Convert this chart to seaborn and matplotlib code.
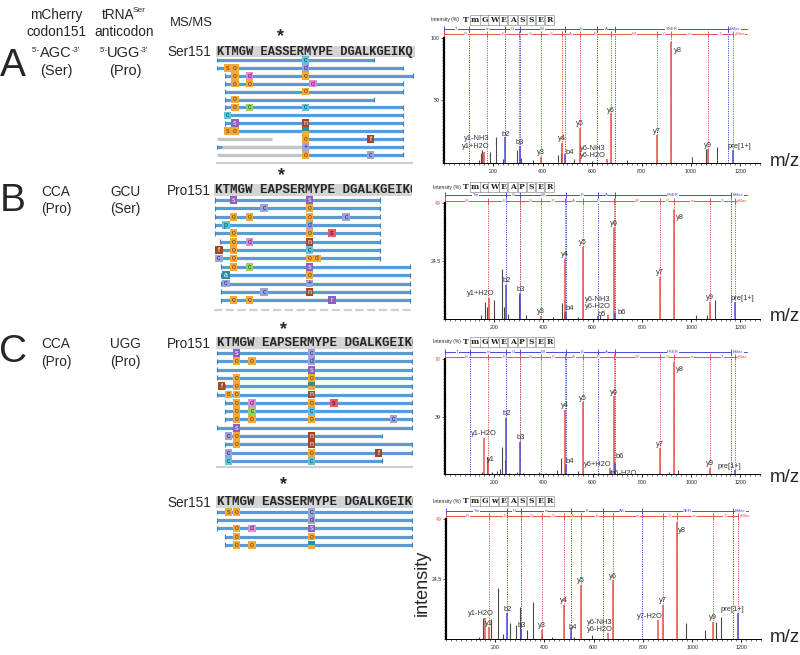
import matplotlib
matplotlib.use("Agg")
import matplotlib.pyplot as plt
from matplotlib.patches import Rectangle
from matplotlib.ticker import MultipleLocator, FixedLocator
import seaborn as sns

sns.set_theme(style="white")
plt.rcParams["font.family"] = ["Liberation Sans", "DejaVu Sans"]

W, H = 800, 655

# ---------------- data: left column ----------------
panel_letters = ["A", "B", "C"]
codon_triplets = ["AGC", "CCA", "CCA"]
codon_residues = ["(Ser)", "(Pro)", "(Pro)"]
anticodon_triplets = ["UGG", "GCU", "UGG"]
anticodon_residues = ["(Pro)", "(Ser)", "(Pro)"]

# ---------------- data: peptide coverage maps ----------------
cov_labels = ["Ser151", "Pro151", "Pro151", "Ser151"]
cov_sequences = ["KTMGW EASSERMYPE DGALKGEIKQ", "KTMGW EAPSERMYPE DGALKGEIKQ",
                 "KTMGW EAPSERMYPE DGALKGEIKQ", "KTMGW EASSERMYPE DGALKGEIKQ"]
cov_site = [8.5, 8.5, 8.5, 8.5]

covA_start = [0, 0, 1, 1, 1, 1, 1, 1, 1, 1, 11.4, 0, 11.4]
covA_end = [20.9, 24.8, 26.1, 24.8, 24.8, 20.9, 24.8, 24.8, 24.8, 24.8, 24.8, 24.8, 24.8]
covA_gray = [(10, 0, 7.3), (11, 0.7, 11.4), (12, 0, 11.4)]
covA_mods = [(0, 11.8, "cC"),
             (1, 1.4, "sO"), (1, 2.4, "o"), (1, 11.8, "dL"),
             (2, 2.4, "o"), (2, 4.3, "dP"), (2, 11.8, "o"),
             (3, 2.4, "o"), (3, 4.3, "o"), (3, 12.8, "dP"),
             (4, 11.8, "o"),
             (5, 2.4, "o"),
             (6, 2.4, "o"), (6, 4.3, "cG"), (6, 11.8, "cC"),
             (7, 1.4, "cC"),
             (8, 2.4, "sP"), (8, 11.8, "n"),
             (9, 1.4, "sO"), (9, 2.4, "o"), (9, 11.8, "t"),
             (10, 11.8, "o"), (10, 20.5, "f"),
             (11, 11.8, "+"),
             (12, 11.8, "o"), (12, 20.5, "cL")]

covB_start = [0, 0, 0, 0, 0, 0.6, 0.6, 0.6, 0.8, 0.8, 0.8, 0.8, 0.8]
covB_end = [21.2, 21.2, 21.2, 21.2, 21.2, 21.2, 21.2, 21.2, 25.0, 25.0, 25.0, 25.0, 25.0]
covB_gray = []
covB_mods = [(0, 2.4, "sP"), (0, 12.1, "sP"),
             (1, 6.3, "cL"), (1, 12.1, "o"),
             (2, 2.4, "o"), (2, 4.4, "o"), (2, 12.1, "o"), (2, 16.8, "cL"),
             (3, 1.4, "p"), (3, 12.1, "dL"),
             (4, 2.4, "o"), (4, 12.1, "o"), (4, 15.0, "sR"),
             (5, 2.4, "o"), (5, 4.4, "dP"), (5, 12.1, "n"),
             (6, 0.5, "f"), (6, 2.4, "o"), (6, 12.1, "cC"),
             (7, 0.5, "cL"), (7, 2.4, "o"), (7, 12.1, "o"), (7, 13.1, "dO"),
             (8, 2.4, "o"), (8, 4.4, "cG"), (8, 12.1, "sP"),
             (9, 1.4, "a"), (9, 12.1, "o"),
             (10, 1.4, "cL"), (10, 12.1, "+"),
             (11, 6.3, "cL"), (11, 12.1, "n"),
             (12, 2.4, "o"), (12, 4.4, "o"), (12, 15.0, "r")]

covC_start = [0, 0, 0, 0, 1, 0, 1, 1, 1, 0, 1, 1, 1, 1]
covC_end = [25, 25, 25, 25, 25, 25, 25, 25, 25, 25, 21.1, 25, 25, 21.1]
covC_gray = []
covC_mods = [(0, 2.5, "sP"), (0, 12.1, "cL"),
             (1, 2.5, "o"), (1, 4.5, "o"), (1, 12.1, "dL"),
             (2, 12.1, "sP"),
             (3, 2.5, "o"), (3, 12.1, "o"),
             (4, 0.6, "f"), (4, 2.5, "o"), (4, 12.1, "t"),
             (5, 1.5, "sO"), (5, 2.5, "o"), (5, 12.1, "n"),
             (6, 2.5, "o"), (6, 4.5, "dP"), (6, 12.1, "o"), (6, 15.0, "sR"),
             (7, 2.5, "o"), (7, 4.5, "cG"), (7, 12.1, "cC"),
             (8, 2.5, "o"), (8, 4.5, "o"), (8, 12.1, "o"), (8, 22.6, "cL"),
             (9, 2.5, "sP"),
             (10, 1.5, "cL"), (10, 2.5, "o"), (10, 12.1, "n"),
             (11, 2.5, "o"), (11, 12.1, "n"),
             (12, 1.5, "cL"), (12, 12.1, "o"), (12, 20.7, "f"),
             (13, 1.5, "cC"), (13, 12.1, "cC")]

covD_start = [0, 0, 0, 1, 1]
covD_end = [25, 25, 25, 25, 25]
covD_gray = []
covD_mods = [(0, 1.5, "sO"), (0, 2.5, "o"), (0, 12.1, "cL"),
             (1, 12.1, "dL"),
             (2, 2.5, "o"), (2, 4.5, "dP"), (2, 12.1, "sP"),
             (3, 2.5, "o"), (3, 12.1, "o"),
             (4, 2.5, "o"), (4, 4.5, "o"), (4, 12.1, "t")]

# ---------------- data: MS/MS spectra ----------------
specA_peptide = ["T", "m", "G", "W", "E", "A", "S", "S", "E", "R"]
specA_b_ticks = [102, 249, 306, 492, 621, 692, 1151]
specA_b_names = ["T", "m", "G", "W", "E", "A", "SSER", "bMax"]
specA_y_ticks = [175, 304, 391, 478, 549, 678, 864, 921, 1068, 1169]
specA_y_names = ["R", "E", "S", "S", "A", "E", "W", "G", "m", "T", "yMax"]
specA_ion_type = ["y", "y", "b", "b", "y", "y", "b", "y", "y", "y", "y", "y", "y", "b"]
specA_ion_mz = [157, 162, 249, 306, 391, 478, 492, 549, 660, 678, 864, 921, 1068, 1169]
specA_ion_int = [7, 9, 21, 13, 5, 16, 7.5, 28, 3, 40, 22, 97, 11, 10]
specA_ion_label = ["y1+H2O", "y1-NH3", "b2", "b3", "y3", "y4", "b4", "y5",
                   "y6-NH3\ny6-H2O", "y6", "y7", "y8", "y9", "pre[1+]"]
specA_other_mz = [140, 149, 155, 185, 212, 240, 297, 313, 360, 461, 472, 528, 600, 740, 1005, 1063, 1106]
specA_other_int = [2, 8, 10, 9, 21, 3, 10, 4, 2, 6, 8, 3, 1.5, 2, 5, 11, 13]

specB_peptide = ["T", "m", "G", "W", "E", "A", "P", "S", "E", "R"]
specB_b_ticks = [249, 306, 492, 621, 692, 1161]
specB_b_names = ["Tm", "G", "W", "E", "A", "PSER", "bMax"]
specB_y_ticks = [175, 304, 391, 488, 559, 688, 874, 931, 1078, 1179]
specB_y_names = ["R", "E", "S", "P", "A", "E", "W", "G", "m", "T", "yMax"]
specB_ion_type = ["y", "b", "b", "y", "y", "b", "y", "b", "y", "y", "b", "y", "y", "y", "b"]
specB_ion_mz = [178, 249, 306, 391, 488, 492, 559, 621, 661, 688, 692, 874, 931, 1078, 1179]
specB_ion_int = [8.8, 14.4, 10.9, 1.2, 25.3, 3, 30.6, 1.4, 1.5, 38.4, 2.4, 17.9, 46.2, 7.3, 7.3]
specB_ion_label = ["y1+H2O", "b2", "b3", "y3", "y4", "b4", "y5", "b5", "y6-NH3\ny6-H2O",
                   "y6", "b6", "y7", "y8", "y9", "pre[1+]"]
specB_other_mz = [148, 162, 170, 199, 230, 239, 256, 299, 330, 440, 474, 482, 540, 630, 1019, 1066, 1099]
specB_other_int = [1.5, 7.3, 5, 8, 21, 5, 2, 10, 1.5, 1, 6.9, 3, 1, 1.5, 1.7, 1.8, 8]

specC_peptide = ["T", "m", "G", "W", "E", "A", "P", "S", "E", "R"]
specC_b_ticks = [102, 249, 306, 492, 621, 692, 1161]
specC_b_names = ["T", "m", "G", "W", "E", "A", "PSER", "bMax"]
specC_y_ticks = [175, 304, 391, 488, 559, 688, 874, 931, 1078, 1179]
specC_y_names = ["R", "E", "S", "P", "A", "E", "W", "G", "m", "T", "yMax"]
specC_ion_type = ["y", "y", "b", "b", "y", "b", "y", "y", "y", "b", "b", "y", "y", "y", "b"]
specC_ion_mz = [157, 175, 249, 306, 488, 492, 559, 670, 688, 692, 674, 874, 931, 1078, 1179]
specC_ion_int = [24.3, 9.5, 37.9, 22, 43.5, 6, 48.7, 3.9, 52.6, 7.3, 2, 17.5, 76, 4.3, 2.7]
specC_ion_label = ["y1-H2O", "y1", "b2", "b3", "y4", "b4", "y5", "y6+H2O", "y6", "b6",
                   "b6-H2O", "y7", "y8", "y9", "pre[1+]"]
specC_other_mz = [150, 169, 190, 213, 222, 233, 244, 260, 292, 318, 380, 410, 456, 470, 540, 604, 624, 911, 945]
specC_other_int = [1.5, 11.8, 1.5, 2, 3.5, 18.6, 9.5, 1, 1.5, 1, 1.2, 1, 2.5, 10.7, 2, 1, 1, 1.6, 2.7]

specD_peptide = ["T", "m", "G", "w", "E", "A", "S", "S", "E", "R"]
specD_b_ticks = [249, 306, 508, 637, 795, 1167]
specD_b_names = ["Tm", "G", "w", "E", "AS", "SER", "bMax"]
specD_y_ticks = [175, 304, 391, 478, 549, 678, 880, 937, 1084, 1185]
specD_y_names = ["R", "E", "S", "S", "A", "E", "w", "G", "m", "T", "yMax"]
specD_ion_type = ["y", "y", "b", "b", "y", "y", "b", "y", "y", "y", "y", "y", "y", "y", "b"]
specD_ion_mz = [157, 175, 249, 306, 391, 478, 508, 549, 660, 678, 862, 880, 937, 1084, 1185]
specD_ion_int = [8.5, 5, 10.5, 4, 3.7, 13.9, 4.4, 22.1, 2.5, 23.9, 7.8, 13.9, 47.6, 7.1, 10.5]
specD_ion_label = ["y1-H2O", "y1", "b2", "b3", "y3", "y4", "b4", "y5", "y6-NH3\ny6-H2O",
                   "y6", "y7-H2O", "y7", "y8", "y9", "pre[1+]"]
specD_other_mz = [135, 152, 184, 213, 230, 260, 283, 301, 330, 355, 390, 430, 520, 593, 977, 1051, 1098, 1119]
specD_other_int = [1, 8.5, 8, 20.7, 2, 6.4, 5.7, 13.2, 3.7, 15.3, 1.5, 1, 1, 1.6, 6.4, 3.7, 7, 9.1]

spec_ymax = [100, 49, 78, 49]
spec_yticklabels = [["50", "100"], ["24.5", "49"], ["39", "78"], ["24.5", "49"]]
mz_ticks = [200, 400, 600, 800, 1000, 1200]

# ---------------- styles / layout ----------------
RED = "#e5534b"
BLUE = "#4b4bd6"
PEAK_GRAY = "#4a4a4a"
BAR_BLUE = "#5b9bd5"
MOD_STYLE = {
    "o": ("#f2a93b", "o", "#6b3d00"), "sO": ("#f2a93b", "s", "#6b3d00"),
    "dO": ("#f2a93b", "d", "#6b3d00"), "sP": ("#8e5fc4", "s", "#eee"),
    "cL": ("#9fa3dc", "c", "#2a2a6a"), "dL": ("#9fa3dc", "d", "#2a2a6a"),
    "+": ("#9fa3dc", "+", "#2a2a6a"), "cC": ("#5cc4dd", "c", "#0f4a5a"),
    "p": ("#5cc4dd", "p", "#0f4a5a"), "cG": ("#8fd26a", "c", "#2a5a10"),
    "dP": ("#dd8ed6", "d", "#5a1a55"), "f": ("#9c4a2a", "f", "#fff"),
    "n": ("#9c4a2a", "n", "#fff"), "sR": ("#e35b6b", "s", "#5a0010"),
    "a": ("#2f8f9f", "a", "#fff"), "r": ("#8e5fc4", "r", "#eee"),
    "t": ("#2f8f9f", "", "#fff"),
}

fig = plt.figure(figsize=(W / 100, H / 100), dpi=100)
fig.patch.set_facecolor("white")


def px_axes(x0, y0, x1, y1):
    return fig.add_axes([x0 / W, 1 - y1 / H, (x1 - x0) / W, (y1 - y0) / H])


def ftext(x, y, s, **kw):
    return fig.text(x / W, 1 - y / H, s, **kw)


# ---- left column ----
ftext(56, 15, "mCherry", fontsize=9.8, ha="center", va="center")
ftext(56, 32, "codon151", fontsize=9.8, ha="center", va="center")
ftext(118, 15, "tRNA", fontsize=9.8, ha="center", va="center")
ftext(133, 11, "Ser", fontsize=6, ha="left", va="center")
ftext(124, 32, "anticodon", fontsize=9.8, ha="center", va="center")
ftext(170, 23, "MS/MS", fontsize=9.4, ha="left", va="center")

letter_y = [66, 201, 352]
codon_y = [53, 192, 344]
aa_y = [71, 209, 362]
for k in range(3):
    ftext(13, letter_y[k], panel_letters[k], fontsize=28, ha="center", va="center")
    if k == 0:
        ftext(56, codon_y[k], codon_triplets[k], fontsize=10.5, ha="center", va="center")
        ftext(40, codon_y[k] - 3, "5'-", fontsize=5.5, ha="right", va="center")
        ftext(72, codon_y[k] - 3, "-3'", fontsize=5.5, ha="left", va="center")
        ftext(124, codon_y[k], anticodon_triplets[k], fontsize=10.5, ha="center", va="center")
        ftext(108, codon_y[k] - 3, "5'-", fontsize=5.5, ha="right", va="center")
        ftext(140, codon_y[k] - 3, "-3'", fontsize=5.5, ha="left", va="center")
        fs_aa = 10.5
    else:
        ftext(56, codon_y[k], codon_triplets[k], fontsize=9.8, ha="center", va="center")
        ftext(125, codon_y[k], anticodon_triplets[k], fontsize=9.8, ha="center", va="center")
        fs_aa = 9.8
    ftext(56, aa_y[k], codon_residues[k], fontsize=fs_aa, ha="center", va="center")
    ftext(125, aa_y[k], anticodon_residues[k], fontsize=fs_aa, ha="center", va="center")

# ---- coverage maps ----
cov_layout = [
    dict(box=(212, 28, 416, 168), x0=217, cw=7.5, row0=60, dy=7.9, seq_y=51.5, star_y=37, bottom=163),
    dict(box=(212, 168, 412, 314), x0=215, cw=7.8, row0=200, dy=8.35, seq_y=190, star_y=176, bottom=310),
    dict(box=(212, 323, 413, 472), x0=217, cw=7.8, row0=353, dy=8.3, seq_y=343, star_y=330, bottom=467),
    dict(box=(212, 478, 413, 556), x0=217, cw=7.8, row0=512, dy=8.2, seq_y=502, star_y=485, bottom=None),
]
cov_data = [(covA_start, covA_end, covA_gray, covA_mods),
            (covB_start, covB_end, covB_gray, covB_mods),
            (covC_start, covC_end, covC_gray, covC_mods),
            (covD_start, covD_end, covD_gray, covD_mods)]

for p, lay in enumerate(cov_layout):
    starts, ends, grays, mods = cov_data[p]
    bx0, by0, bx1, by1 = lay["box"]
    ax = px_axes(bx0, by0, bx1, by1)
    cw, dy = lay["cw"], lay["dy"]
    ax.set_xlim((bx0 - lay["x0"]) / cw, (bx1 - lay["x0"]) / cw)
    ax.set_ylim((by1 - lay["row0"]) / dy, (by0 - lay["row0"]) / dy)
    ax.axis("off")
    srow = (lay["seq_y"] - lay["row0"]) / dy
    ax.add_patch(Rectangle((-0.15, srow - 0.68), 26.5, 1.36, fc="#d4d4d4", ec="none", zorder=1))
    ax.text(0, srow + 0.05, cov_sequences[p], family="Liberation Mono", weight="bold",
            fontsize=cw / 0.6 * 0.72 * 0.965, ha="left", va="center", clip_on=True, zorder=2)
    ax.text(cov_site[p], (lay["star_y"] - lay["row0"]) / dy, "*", fontsize=13,
            weight="bold", ha="center", va="center", zorder=2)
    ftext(167, lay["seq_y"] + 1, cov_labels[p], fontsize=9.8, ha="left", va="center")
    rows = list(range(len(starts)))
    ax.hlines(rows, starts, ends, color=BAR_BLUE, lw=2.3, zorder=2)
    ax.vlines(starts + ends, [r - 0.3 for r in rows] * 2, [r + 0.3 for r in rows] * 2,
              color="#3f7fc0", lw=0.8, zorder=2)
    for (r, s, e) in grays:
        ax.hlines(r, s, e, color="#c4c4c4", lw=2.3, zorder=2.5)
    for (r, pos, code) in mods:
        fc, letter, tc = MOD_STYLE[code]
        ax.add_patch(Rectangle((pos - 0.48, r - 0.47), 0.96, 0.94, fc=fc, ec="none", zorder=3))
        if code == "t":
            ax.add_patch(Rectangle((pos - 0.48, r), 0.96, 0.47, fc="#f2a93b", ec="none", zorder=3.1))
        ax.text(pos, r + 0.05, letter, fontsize=5, color=tc, ha="center", va="center", zorder=4)
    if lay["bottom"] is not None:
        br = (lay["bottom"] - lay["row0"]) / dy
        ax.hlines(br, -0.1, 26.1, color="#cfcfcf", lw=1.6,
                  linestyles="--" if p == 1 else "-", zorder=1)

# ---- spectra ----
spec_layout = [
    (444, 760, 38, 163, 29, 34, 20),
    (445, 760, 203, 319, 195, 201, 187),
    (445, 760, 359, 474, 352, 357, 342),
    (446, 761, 519, 639, 511, 516, 501),
]
mz_label_y = [162, 317, 477, 637]
spec_data = [
    (specA_peptide, specA_b_ticks, specA_b_names, specA_y_ticks, specA_y_names,
     specA_ion_type, specA_ion_mz, specA_ion_int, specA_ion_label, specA_other_mz, specA_other_int),
    (specB_peptide, specB_b_ticks, specB_b_names, specB_y_ticks, specB_y_names,
     specB_ion_type, specB_ion_mz, specB_ion_int, specB_ion_label, specB_other_mz, specB_other_int),
    (specC_peptide, specC_b_ticks, specC_b_names, specC_y_ticks, specC_y_names,
     specC_ion_type, specC_ion_mz, specC_ion_int, specC_ion_label, specC_other_mz, specC_other_int),
    (specD_peptide, specD_b_ticks, specD_b_names, specD_y_ticks, specD_y_names,
     specD_ion_type, specD_ion_mz, specD_ion_int, specD_ion_label, specD_other_mz, specD_other_int),
]
LABEL_OFFSET = {
    (0, "y1-NH3"): (-5, 7), (0, "y1+H2O"): (-5, 3), (0, "y8"): (5, -9),
    (0, "y6-NH3\ny6-H2O"): (-10, 0), (0, "pre[1+]"): (5, 0), (0, "b4"): (3, -2),
    (0, "y6"): (0, -1), (0, "b2"): (0, -1),
    (1, "y1+H2O"): (-6, 1), (1, "y6-NH3\ny6-H2O"): (-7, 4), (1, "b5"): (3, -2),
    (1, "b6"): (5, -2), (1, "y8"): (4, -8), (1, "pre[1+]"): (5, 0), (1, "b4"): (3, 0),
    (2, "y1-H2O"): (0, 1), (2, "y1"): (2, -2), (2, "y8"): (4, -8), (2, "b6-H2O"): (9, -4),
    (2, "b6"): (3, 2), (2, "y6+H2O"): (-9, 0), (2, "pre[1+]"): (-4, 0), (2, "b4"): (3, 0),
    (3, "y1-H2O"): (-3, 1), (3, "y1"): (0, 0), (3, "y8"): (4, -8), (3, "y7-H2O"): (-6, 0),
    (3, "y6-NH3\ny6-H2O"): (-6, 0), (3, "pre[1+]"): (-4, 0), (3, "b4"): (1, -2),
}

for i, lay in enumerate(spec_layout):
    left, right, top, base, bpx, rpx, hy = lay
    (pep, bt, bn, yt, yn, itype, imz, iint, ilab, omz, oint) = spec_data[i]
    ymax = spec_ymax[i]
    ax = px_axes(left, top, right, base)
    ax.set_xlim(0, 1280)
    ax.set_ylim(0, ymax)
    ax.set_facecolor("none")
    ax.grid(False)
    for s in ["top", "right"]:
        ax.spines[s].set_visible(False)
    ax.spines["left"].set_linewidth(1.6)
    ax.spines["left"].set_color("black")
    ax.spines["bottom"].set_linewidth(0.7)
    ax.spines["bottom"].set_color("black")
    ax.xaxis.set_major_locator(FixedLocator(mz_ticks))
    ax.xaxis.set_minor_locator(MultipleLocator(20))
    ax.set_xticklabels([str(t) for t in mz_ticks])
    ax.tick_params(axis="x", which="major", bottom=True, length=2.5, width=0.6,
                   labelsize=3.8, pad=1.5, color="black")
    ax.tick_params(axis="x", which="minor", bottom=True, length=1.2, width=0.4, color="black")
    ax.set_yticks([ymax / 2, ymax])
    ax.set_yticklabels(spec_yticklabels[i])
    ax.yaxis.set_minor_locator(MultipleLocator(ymax / 40))
    ax.tick_params(axis="y", which="major", left=True, length=2, width=0.5, labelsize=3.8, pad=1)
    ax.tick_params(axis="y", which="minor", left=True, length=1.2, width=0.4)
    if i > 0:
        ax.get_yticklabels()[1].set_color(RED)

    trans = ax.get_xaxis_transform()
    span = base - top
    hb = 1 + (top - bpx) / span
    hr = 1 + (top - rpx) / span
    for (hh, ticks, names, col) in [(hb, bt, bn, BLUE), (hr, yt, yn, RED)]:
        ax.plot([0, 1228], [hh, hh], color=col, lw=0.7, transform=trans, clip_on=False)
        edges = [0] + ticks
        ax.vlines(edges, hh - 0.025, hh + 0.025, color=col, lw=0.7, transform=trans, clip_on=False)
        ax.vlines(ticks, 0, hh, color=col, lw=0.7, linestyles=(0, (1.2, 1.2)),
                  transform=trans, clip_on=False)
        for k, nm in enumerate(names):
            if k < len(edges) - 1:
                ax.text((edges[k] + edges[k + 1]) / 2, hh, nm, transform=trans, fontsize=3.2,
                        color=col, ha="center", va="center", clip_on=False,
                        bbox=dict(fc="white", ec="none", pad=0.3))
            else:
                ax.text(edges[-1] + 8, hh, nm, transform=trans, fontsize=3.2, color=col,
                        ha="left", va="center", clip_on=False,
                        bbox=dict(fc="white", ec="none", pad=0.3))

    ax.vlines(omz, 0, oint, colors=PEAK_GRAY, lw=0.8)
    cols = [RED if t == "y" else BLUE for t in itype]
    ax.vlines(imz, 0, iint, colors=cols, lw=1.1)
    for lab, mz, h in zip(ilab, imz, iint):
        dx, dyy = LABEL_OFFSET.get((i, lab), (0, 0.5))
        ax.annotate(lab, (mz, h), xytext=(dx, dyy), textcoords="offset points",
                    ha="center", va="bottom", fontsize=5.4, color="#333333",
                    linespacing=0.95, annotation_clip=False)

    # header with peptide letters
    ftext(431 if i == 0 else 433, hy, "Intensity (%)", fontsize=3.6, ha="left", va="center")
    for k, L in enumerate(pep):
        kw = dict(fontsize=5.5, family="DejaVu Serif", weight="bold", ha="center", va="center")
        if k > 0:
            kw["bbox"] = dict(boxstyle="square,pad=0.15", fc="white", ec="#777777", lw=0.4)
        ftext(466 + k * 9.3, hy, L, **kw)

    ftext(770, mz_label_y[i], "m/z", fontsize=13.5, ha="left", va="center")

ftext(422, 583, "intensity", fontsize=13, rotation=90, ha="center", va="center")

fig.savefig("out.png", dpi=100, facecolor="white")
